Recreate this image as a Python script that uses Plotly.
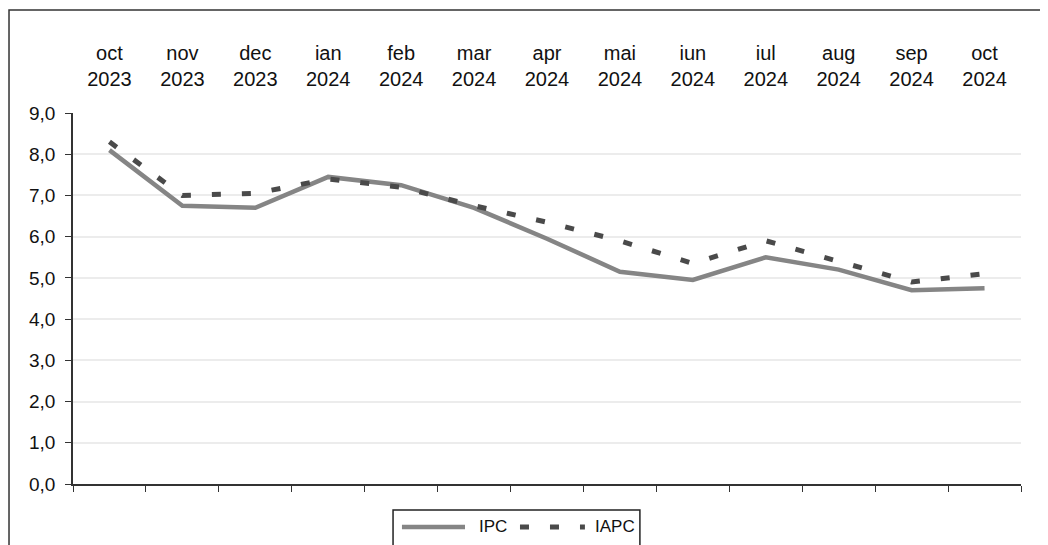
import plotly.graph_objects as go

months = ["oct", "nov", "dec", "ian", "feb", "mar", "apr", "mai", "iun", "iul", "aug", "sep", "oct"]
years = ["2023", "2023", "2023", "2024", "2024", "2024", "2024", "2024", "2024", "2024", "2024", "2024", "2024"]
ipc = [8.1, 6.75, 6.7, 7.45, 7.25, 6.7, 5.95, 5.15, 4.95, 5.5, 5.2, 4.7, 4.75]
iapc = [8.3, 7.0, 7.05, 7.4, 7.2, 6.75, 6.35, 5.9, 5.35, 5.9, 5.4, 4.9, 5.1]
y_ticks = [0, 1, 2, 3, 4, 5, 6, 7, 8, 9]

cats = [f"{m}<br>{y}" for m, y in zip(months, years)]
xs = list(range(len(cats)))

IPC_COLOR = "#858585"
IAPC_COLOR = "#4a4a4a"
IAPC_DASH = "9px,21px"
FAM = "Liberation Sans, Arial, sans-serif"

fig = go.Figure()
fig.add_trace(go.Scatter(x=xs, y=ipc, mode="lines", name="IPC",
                         line=dict(color=IPC_COLOR, width=4.5)))
fig.add_trace(go.Scatter(x=xs, y=iapc, mode="lines", name="IAPC",
                         line=dict(color=IAPC_COLOR, width=5, dash=IAPC_DASH)))
fig.add_trace(go.Scatter(x=xs, y=[None] * len(xs), xaxis="x2", showlegend=False, hoverinfo="skip"))

fig.update_layout(
    width=1040, height=537,
    margin=dict(l=65, r=27, t=105, b=61),
    paper_bgcolor="white", plot_bgcolor="white",
    separators=",.",
    font=dict(family=FAM, size=17, color="#111"),
    showlegend=False,
    xaxis=dict(range=[-0.5, 12.5], tickmode="array", tickvals=[i - 0.5 for i in range(14)],
               showticklabels=False, ticks="outside", ticklen=6, tickcolor="#333",
               showline=True, linecolor="#333", linewidth=1.5, showgrid=False, zeroline=False),
    xaxis2=dict(range=[-0.5, 12.5], overlaying="x", side="top", tickmode="array",
                tickvals=xs, ticktext=cats, ticks="", showline=False, showgrid=False,
                zeroline=False, ticklabelstandoff=22,
                tickfont=dict(family=FAM, size=20, color="#111")),
    yaxis=dict(range=[0, 9], tickmode="array", tickvals=y_ticks, tickformat=".1f",
               ticks="outside", ticklen=6, tickcolor="#333", showline=True,
               linecolor="#333", linewidth=1.5, showgrid=True, gridcolor="#ececec",
               gridwidth=1.5, zeroline=False, ticklabelstandoff=6,
               tickfont=dict(family=FAM, size=19, color="#111")),
)

# outer chart border
fig.add_shape(type="rect", xref="paper", yref="paper",
              x0=-0.0675, x1=1.2, y0=-0.5, y1=1.2776,
              line=dict(color="#333", width=1.5), fillcolor="rgba(0,0,0,0)", layer="below")

# legend box (manual)
fig.add_shape(type="rect", xref="paper", yref="paper",
              x0=0.3376, x1=0.598, y0=-0.3, y1=-0.0701,
              line=dict(color="#222", width=1.5), fillcolor="white")
fig.add_shape(type="line", xref="paper", yref="paper",
              x0=0.347, x1=0.4135, y0=-0.1159, y1=-0.1159,
              line=dict(color=IPC_COLOR, width=4.5))
fig.add_shape(type="line", xref="paper", yref="paper",
              x0=0.4715, x1=0.540, y0=-0.1159, y1=-0.1159,
              line=dict(color=IAPC_COLOR, width=5, dash=IAPC_DASH))
fig.add_annotation(xref="paper", yref="paper", x=0.4262, y=-0.1159, text="IPC",
                   showarrow=False, xanchor="left", yanchor="middle",
                   font=dict(family=FAM, size=17, color="#111"))
fig.add_annotation(xref="paper", yref="paper", x=0.5485, y=-0.1159, text="IAPC",
                   showarrow=False, xanchor="left", yanchor="middle",
                   font=dict(family=FAM, size=17, color="#111"))

fig.write_html("out.html")
